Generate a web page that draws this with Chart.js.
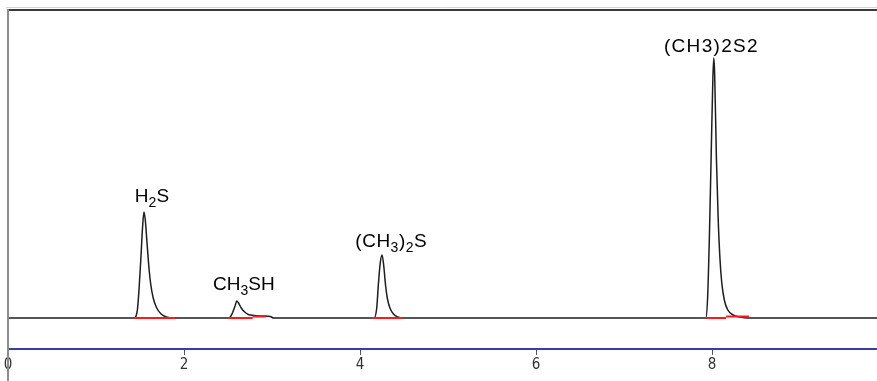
<!DOCTYPE html>
<html>
<head>
<meta charset="utf-8">
<script src="https://cdn.jsdelivr.net/npm/chart.js@4.4.1/dist/chart.umd.min.js"></script>
<style>
  html, body { margin: 0; padding: 0; background: #fff; }
  #wrap { width: 877px; height: 381px; position: relative; }
</style>
</head>
<body>
<div id="wrap"><canvas id="chart"></canvas></div>
<script>
// retention time (min) and detector response (baseline = 0)
const timeMin = [0, 1.43, 1.47, 1.49, 1.51, 1.53, 1.545, 1.56, 1.58, 1.60, 1.62, 1.65, 1.69, 1.74, 1.80, 1.88,
  2.51, 2.55, 2.58, 2.60, 2.62, 2.65, 2.69, 2.73, 2.80, 2.90, 2.98, 3.02,
  4.16, 4.19, 4.21, 4.23, 4.25, 4.27, 4.29, 4.31, 4.34, 4.38, 4.43, 4.48,
  7.93, 7.95, 7.97, 7.99, 8.01, 8.02, 8.03, 8.05, 8.07, 8.09, 8.11, 8.14, 8.18, 8.24, 8.32, 8.40, 9.9];
const response = [0, 0, 8, 30, 60, 92, 106, 98, 75, 52, 35, 20, 10, 4, 1, 0,
  0, 5, 12, 17, 15, 10, 6, 3.5, 2.5, 2, 1.5, 0,
  0, 10, 35, 55, 63, 52, 33, 20, 10, 4, 1, 0,
  0, 20, 80, 160, 240, 260, 245, 160, 100, 60, 36, 18, 8, 3, 1, 0, 0];

// peaks
const peakNames = ['H₂S', 'CH₃SH', '(CH₃)₂S', '(CH3)2S2'];
const peakTimes = [1.545, 2.60, 4.25, 8.02];
const peakHeights = [106, 17, 63, 260];

// integration baselines (red)
const integStart = [1.43, 2.50, 2.78, 4.14, 7.92, 8.16];
const integEnd   = [1.90, 2.78, 2.93, 4.48, 8.16, 8.42];
const integLevel = [0, 0, 1.5, 0, 0, 1.5];

const tickValues = [0, 2, 4, 6, 8];
const tickLabels = ['0', '2', '4', '6', '8'];

const signal = timeMin.map((t, i) => ({ x: t, y: response[i] }));
const integ = [];
integStart.forEach((s, i) => {
  integ.push({ x: s, y: integLevel[i] }, { x: integEnd[i], y: integLevel[i] }, { x: integEnd[i], y: null });
});

const SUBS = '₀₁₂₃₄₅₆₇₈₉';

const framePlugin = {
  id: 'frame',
  beforeDraw(chart) {
    const c = chart.ctx;
    c.save();
    c.fillStyle = '#ffffff';
    c.fillRect(0, 0, chart.width, chart.height);
    c.restore();
  },
  afterDraw(chart) {
    const c = chart.ctx, a = chart.chartArea;
    c.save();
    c.strokeStyle = '#d4d4e0';
    c.lineWidth = 1;
    c.beginPath(); c.moveTo(a.left - 2, a.top - 1.5); c.lineTo(chart.width, a.top - 1.5); c.stroke();
    c.strokeStyle = '#3a3a3a';
    c.lineWidth = 2;
    c.beginPath(); c.moveTo(a.left - 1, a.top + 1); c.lineTo(chart.width, a.top + 1); c.stroke();
    c.strokeStyle = '#8c8c8c';
    c.beginPath(); c.moveTo(a.left, a.top); c.lineTo(a.left, chart.height); c.stroke();
    c.restore();
  }
};

const peakLabelPlugin = {
  id: 'peakLabels',
  afterDatasetsDraw(chart, args, opts) {
    const c = chart.ctx, xs = chart.scales.x, ys = chart.scales.y;
    c.save();
    c.fillStyle = '#000';
    c.textBaseline = 'alphabetic';
    peakNames.forEach((name, i) => {
      const size = opts.size, sub = Math.round(size * 0.75);
      const sp = opts.spacing[i];
      const parts = [...name].map(ch => {
        const k = SUBS.indexOf(ch);
        const f = (k >= 0 ? sub : size) + 'px "Liberation Sans", Arial, sans-serif';
        c.font = f;
        const txt = k >= 0 ? String(k) : ch;
        return { txt, f, low: k >= 0, w: c.measureText(txt).width };
      });
      const total = parts.reduce((s, p) => s + p.w + sp, -sp);
      let x = xs.getPixelForValue(peakTimes[i]) + opts.dx[i] - total / 2;
      const y = ys.getPixelForValue(peakHeights[i]) + opts.dy[i];
      parts.forEach(p => {
        c.font = p.f;
        c.fillText(p.txt, x, y + (p.low ? 5 : 0));
        x += p.w + sp;
      });
    });
    c.restore();
  }
};

new Chart(document.getElementById('chart'), {
  type: 'line',
  data: {
    datasets: [
      {
        data: integ,
        borderColor: '#ff1a1a',
        borderWidth: 2,
        pointRadius: 0,
        spanGaps: false,
        order: 1
      },
      {
        data: signal,
        borderColor: '#1e1e1e',
        borderWidth: 1.5,
        pointRadius: 0,
        cubicInterpolationMode: 'monotone',
        order: 2
      }
    ]
  },
  options: {
    responsive: true,
    maintainAspectRatio: false,
    animation: false,
    layout: { padding: { left: 8, top: 9, right: 0, bottom: 6 } },
    plugins: {
      legend: { display: false },
      tooltip: { enabled: false },
      peakLabels: {
        size: 19,
        dx: [8, 7, 9, -3],
        dy: [-10, -11, -8, -6],
        spacing: [0, 0, 0.5, 1.3]
      }
    },
    scales: {
      x: {
        type: 'linear',
        min: 0,
        max: 9.875,
        afterBuildTicks: (s) => { s.ticks = tickValues.map(v => ({ value: v })); },
        grid: { drawOnChartArea: false, drawTicks: true, tickLength: 6, tickColor: '#555', tickWidth: 1 },
        border: { display: true, color: '#3c3ca8', width: 2 },
        ticks: {
          autoSkip: false,
          maxRotation: 0,
          padding: 1,
          color: '#333',
          font: { family: '"DejaVu Sans Condensed", "Liberation Sans Narrow", sans-serif', size: 15 },
          callback: (v) => tickLabels[tickValues.indexOf(v)] ?? ''
        }
      },
      y: {
        display: false,
        min: -31,
        max: 309
      }
    }
  },
  plugins: [framePlugin, peakLabelPlugin]
});
</script>
</body>
</html>
